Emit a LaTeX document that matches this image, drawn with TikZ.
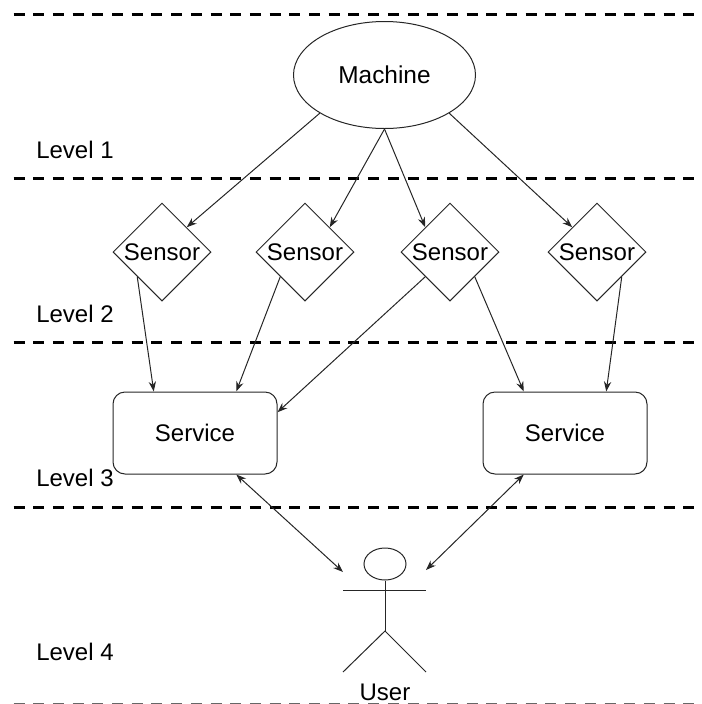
\documentclass[tikz,border=0pt]{standalone}
\usepackage{fontspec}
\setmainfont{Liberation Sans}
\usetikzlibrary{shapes.geometric,arrows.meta,calc}
\tikzset{
  px/.style={x=0.75pt,y=-0.75pt},
  thinline/.style={draw=black!85,line width=0.75pt},
  sensorbox/.style={thinline,shape=diamond,shape aspect=1,inner sep=0pt,minimum width=73.5pt,minimum height=73.5pt,font=\fontsize{18}{20}\selectfont},
  servicebox/.style={thinline,rectangle,rounded corners=9pt,minimum width=123pt,minimum height=61.5pt,inner sep=0pt,font=\fontsize{18}{20}\selectfont},
  machinebox/.style={thinline,ellipse,inner sep=0pt,minimum width=136.5pt,minimum height=80.25pt,font=\fontsize{18.3}{20}\selectfont},
  levelline/.style={draw=black,line width=2.25pt,dash pattern=on 8.25pt off 6.525pt},
  bottomline/.style={draw=black!60,line width=2.25pt,dash pattern=on 8.25pt off 6.525pt},
  leveltext/.style={anchor=west,inner sep=0pt,font=\fontsize{18}{20}\selectfont},
  conn/.style={thinline,-{Stealth[length=7.5pt,width=5.5pt]}},
  biconn/.style={thinline,{Stealth[length=7.5pt,width=5.5pt]}-{Stealth[length=7.5pt,width=5.5pt]}},
}
\begin{document}
\begin{tikzpicture}[px]
\useasboundingbox (0,0) rectangle (701,704);
\draw[levelline] (13.5,14) -- (696,14);
\draw[levelline] (13.5,178) -- (696,178);
\draw[levelline] (13.5,342) -- (696,342);
\draw[levelline] (13.5,507) -- (696,507);
\begin{scope}
\clip (0,0) rectangle (701,704);
\draw[bottomline] (13.5,704.5) -- (696,704.5);
\end{scope}

\node[leveltext] (l1) at (36,150) {Level 1};
\node[leveltext] (l2) at (36,314) {Level 2};
\node[leveltext] (l3) at (36,478) {Level 3};
\node[leveltext] (l4) at (36,652) {Level 4};

\node[machinebox] (machine) at (384.5,75) {Machine};
\node[sensorbox] (s1) at (162,252) {\makebox[0pt]{Sensor}};
\node[sensorbox] (s2) at (305,252) {\makebox[0pt]{Sensor}};
\node[sensorbox] (s3) at (450,252) {\makebox[0pt]{Sensor}};
\node[sensorbox] (s4) at (597,252) {\makebox[0pt]{Sensor}};
\node[servicebox] (sv1) at (195,433) {Service};
\node[servicebox] (sv2) at (565,433) {Service};

% actor
\node[draw=black!85,line width=0.75pt,ellipse,inner sep=0pt,minimum width=31.5pt,minimum height=24pt] (head) at (385,564) {};
\coordinate (hip) at (385,631);
\coordinate (armL) at (343,590);
\coordinate (armR) at (426,590);
\coordinate (footL) at (343,672);
\coordinate (footR) at (426,672);
\draw[thinline] (head.south) -- (hip);
\draw[thinline] (armL) -- (armR);
\draw[thinline] (footL) -- (hip) -- (footR);
\node[inner sep=0pt,font=\fontsize{18}{20}\selectfont] (user) at (385,692) {User};
\coordinate (userL) at (343,572);
\coordinate (userR) at (426,570);

\draw[conn] (machine.south west) -- (s1.north east);
\draw[conn] (machine.south) -- (s2.north east);
\draw[conn] (machine.south) -- (s3.north west);
\draw[conn] (machine.south east) -- (s4.north west);
\draw[conn] (s1.south west) -- ($(sv1.north west)!.25!(sv1.north east)$);
\draw[conn] (s2.south west) -- ($(sv1.north west)!.75!(sv1.north east)$);
\draw[conn] (s3.south west) -- ($(sv1.north east)!.25!(sv1.south east)$);
\draw[conn] (s3.south east) -- ($(sv2.north west)!.25!(sv2.north east)$);
\draw[conn] (s4.south east) -- ($(sv2.north west)!.75!(sv2.north east)$);
\draw[biconn] ($(sv1.south west)!.75!(sv1.south east)$) -- (userL);
\draw[biconn] ($(sv2.south west)!.25!(sv2.south east)$) -- (userR);
\end{tikzpicture}
\end{document}
